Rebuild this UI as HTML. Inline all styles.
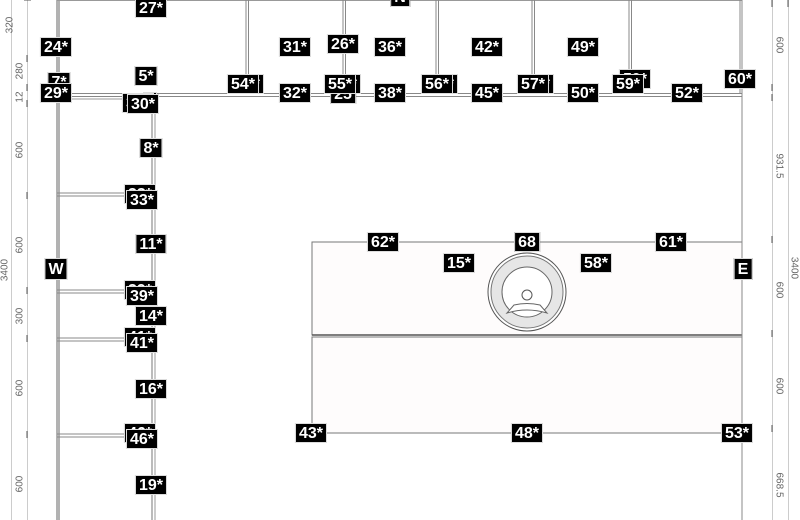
<!DOCTYPE html>
<html><head><meta charset="utf-8"><style>
html,body{margin:0;padding:0;background:#fff;}
#c{position:relative;width:800px;height:520px;overflow:hidden;background:#fff;font-family:"Liberation Sans",sans-serif;}
.l{position:absolute;color:#fff;background:#000;font-weight:bold;font-size:16px;line-height:20px;height:20px;text-align:center;border:1px solid #ddd;box-sizing:border-box;padding:0 3px;transform:translate(-50%,-50%);white-space:nowrap;}
.d{position:absolute;font-size:10px;color:#666;white-space:nowrap;}
svg{position:absolute;left:0;top:0;}
</style></head><body><div id="c">
<svg width="800" height="520" viewBox="0 0 800 520">
<g fill="none" stroke="#888" stroke-width="1">
<rect x="312" y="242" width="430" height="93" fill="#fefcfc" stroke="#777"/>
<rect x="312" y="337" width="430" height="96" fill="#fefcfc" stroke="#777"/>
<line x1="312" y1="335" x2="742" y2="335" stroke="#555" stroke-width="1.5"/>
<circle cx="527" cy="292" r="39" stroke="#555" fill="#fff"/>
<circle cx="527" cy="292" r="36" stroke="#777" fill="#e6e6e6"/>
<circle cx="527" cy="292" r="25" stroke="#666" fill="#fff"/>
<circle cx="527" cy="295" r="5" stroke="#555" fill="#fff"/>
<path d="M507 313 L514 305 Q527 302 540 305 L547 313 Q527 307 507 313Z" stroke="#666" fill="#fff"/>
<line x1="57" y1="0" x2="57" y2="520" stroke="#666"/>
<line x1="59" y1="0" x2="59" y2="520" stroke="#666"/>
<line x1="57" y1="0.5" x2="742" y2="0.5" stroke="#999"/>
<line x1="742" y1="0" x2="742" y2="520" stroke="#888"/>
<line x1="740" y1="0" x2="740" y2="94" stroke="#888"/>
<line x1="57" y1="93.5" x2="742" y2="93.5" stroke="#888"/>
<line x1="57" y1="96.5" x2="742" y2="96.5" stroke="#888"/>
<line x1="57" y1="99" x2="130" y2="99" stroke="#999"/>
<line x1="152" y1="96" x2="152" y2="520" stroke="#777"/>
<line x1="155" y1="96" x2="155" y2="520" stroke="#999"/>
<line x1="246" y1="0" x2="246" y2="94"/><line x1="248.5" y1="0" x2="248.5" y2="94"/>
<line x1="343" y1="0" x2="343" y2="94"/><line x1="345.5" y1="0" x2="345.5" y2="94"/>
<line x1="436" y1="0" x2="436" y2="94"/><line x1="438.5" y1="0" x2="438.5" y2="94"/>
<line x1="532" y1="0" x2="532" y2="94"/><line x1="534.5" y1="0" x2="534.5" y2="94"/>
<line x1="629" y1="0" x2="629" y2="94"/><line x1="631.5" y1="0" x2="631.5" y2="94"/>
<line x1="57" y1="193" x2="128" y2="193"/><line x1="57" y1="196" x2="128" y2="196"/>
<line x1="57" y1="290" x2="128" y2="290"/><line x1="57" y1="293" x2="128" y2="293"/>
<line x1="57" y1="338" x2="128" y2="338"/><line x1="57" y1="341" x2="128" y2="341"/>
<line x1="57" y1="434" x2="128" y2="434"/><line x1="57" y1="437" x2="128" y2="437"/>
<line x1="11.5" y1="0" x2="11.5" y2="520" stroke="#ccc"/>
<line x1="27.5" y1="0" x2="27.5" y2="520" stroke="#ccc"/>
<line x1="772.5" y1="0" x2="772.5" y2="520" stroke="#ccc"/>
<line x1="788.5" y1="0" x2="788.5" y2="520" stroke="#ccc"/>
</g>
<g stroke="#555" stroke-width="1">
<line x1="24" y1="0" x2="31" y2="0"/>
<line x1="27" y1="55" x2="27" y2="62"/><line x1="27" y1="84" x2="27" y2="91"/><line x1="27" y1="100" x2="27" y2="107"/>
<line x1="27" y1="192" x2="27" y2="199"/><line x1="27" y1="287" x2="27" y2="294"/><line x1="27" y1="335" x2="27" y2="342"/><line x1="27" y1="431" x2="27" y2="438"/>
<line x1="772" y1="0" x2="772" y2="7"/><line x1="772" y1="84" x2="772" y2="91"/><line x1="772" y1="94" x2="772" y2="101"/>
<line x1="772" y1="236" x2="772" y2="243"/><line x1="772" y1="330" x2="772" y2="337"/><line x1="772" y1="425" x2="772" y2="432"/>
<line x1="788" y1="0" x2="788" y2="7"/>
</g>
</svg>
<div class="d" style="left:10px;top:25px;transform:translate(-50%,-50%) rotate(-90deg)">320</div>
<div class="d" style="left:20px;top:71px;transform:translate(-50%,-50%) rotate(-90deg)">280</div>
<div class="d" style="left:20px;top:97px;transform:translate(-50%,-50%) rotate(-90deg)">12</div>
<div class="d" style="left:20px;top:150px;transform:translate(-50%,-50%) rotate(-90deg)">600</div>
<div class="d" style="left:5px;top:270px;transform:translate(-50%,-50%) rotate(-90deg)">3400</div>
<div class="d" style="left:20px;top:245px;transform:translate(-50%,-50%) rotate(-90deg)">600</div>
<div class="d" style="left:20px;top:316px;transform:translate(-50%,-50%) rotate(-90deg)">300</div>
<div class="d" style="left:20px;top:388px;transform:translate(-50%,-50%) rotate(-90deg)">600</div>
<div class="d" style="left:20px;top:484px;transform:translate(-50%,-50%) rotate(-90deg)">600</div>
<div class="d" style="left:779px;top:45px;transform:translate(-50%,-50%) rotate(90deg)">600</div>
<div class="d" style="left:779px;top:166px;transform:translate(-50%,-50%) rotate(90deg)">931.5</div>
<div class="d" style="left:794px;top:268px;transform:translate(-50%,-50%) rotate(90deg)">3400</div>
<div class="d" style="left:779px;top:290px;transform:translate(-50%,-50%) rotate(90deg)">600</div>
<div class="d" style="left:779px;top:386px;transform:translate(-50%,-50%) rotate(90deg)">600</div>
<div class="d" style="left:779px;top:485px;transform:translate(-50%,-50%) rotate(90deg)">668.5</div>

<div class="l" style="left:400px;top:-3px;">N</div>
<div class="l" style="left:151px;top:8px;">27*</div>
<div class="l" style="left:56px;top:47px;">24*</div>
<div class="l" style="left:59px;top:82px;">7*</div>
<div class="l" style="left:56px;top:93px;">29*</div>
<div class="l" style="left:146px;top:76px;">5*</div>
<div class="l" style="left:150px;top:96px;width:14px;height:8px;padding:0"></div>
<div class="l" style="left:138px;top:103px;">30*</div>
<div class="l" style="left:143px;top:104px;">30*</div>
<div class="l" style="left:248px;top:84px;">54*</div>
<div class="l" style="left:243px;top:84px;">54*</div>
<div class="l" style="left:295px;top:47px;">31*</div>
<div class="l" style="left:343px;top:44px;">26*</div>
<div class="l" style="left:343px;top:94px;">25</div>
<div class="l" style="left:345px;top:84px;">55*</div>
<div class="l" style="left:340px;top:84px;">55*</div>
<div class="l" style="left:295px;top:93px;">32*</div>
<div class="l" style="left:390px;top:47px;">36*</div>
<div class="l" style="left:390px;top:93px;">38*</div>
<div class="l" style="left:442px;top:84px;">56*</div>
<div class="l" style="left:437px;top:84px;">56*</div>
<div class="l" style="left:487px;top:47px;">42*</div>
<div class="l" style="left:487px;top:93px;">45*</div>
<div class="l" style="left:538px;top:84px;">57*</div>
<div class="l" style="left:533px;top:84px;">57*</div>
<div class="l" style="left:583px;top:47px;">49*</div>
<div class="l" style="left:583px;top:93px;">50*</div>
<div class="l" style="left:635px;top:79px;">59*</div>
<div class="l" style="left:628px;top:84px;">59*</div>
<div class="l" style="left:687px;top:93px;">52*</div>
<div class="l" style="left:740px;top:79px;">60*</div>
<div class="l" style="left:151px;top:148px;">8*</div>
<div class="l" style="left:140px;top:194px;">33*</div>
<div class="l" style="left:142px;top:200px;">33*</div>
<div class="l" style="left:151px;top:244px;">11*</div>
<div class="l" style="left:56px;top:269px;height:22px;line-height:22px;">W</div>
<div class="l" style="left:140px;top:290px;">39*</div>
<div class="l" style="left:142px;top:296px;">39*</div>
<div class="l" style="left:151px;top:316px;">14*</div>
<div class="l" style="left:140px;top:337px;">41*</div>
<div class="l" style="left:142px;top:343px;">41*</div>
<div class="l" style="left:151px;top:389px;">16*</div>
<div class="l" style="left:140px;top:433px;">46*</div>
<div class="l" style="left:142px;top:439px;">46*</div>
<div class="l" style="left:151px;top:485px;">19*</div>
<div class="l" style="left:383px;top:242px;">62*</div>
<div class="l" style="left:527px;top:242px;">68</div>
<div class="l" style="left:671px;top:242px;">61*</div>
<div class="l" style="left:459px;top:263px;">15*</div>
<div class="l" style="left:596px;top:263px;">58*</div>
<div class="l" style="left:743px;top:269px;height:22px;line-height:22px;">E</div>
<div class="l" style="left:311px;top:433px;">43*</div>
<div class="l" style="left:527px;top:433px;">48*</div>
<div class="l" style="left:737px;top:433px;">53*</div>
</div></body></html>
